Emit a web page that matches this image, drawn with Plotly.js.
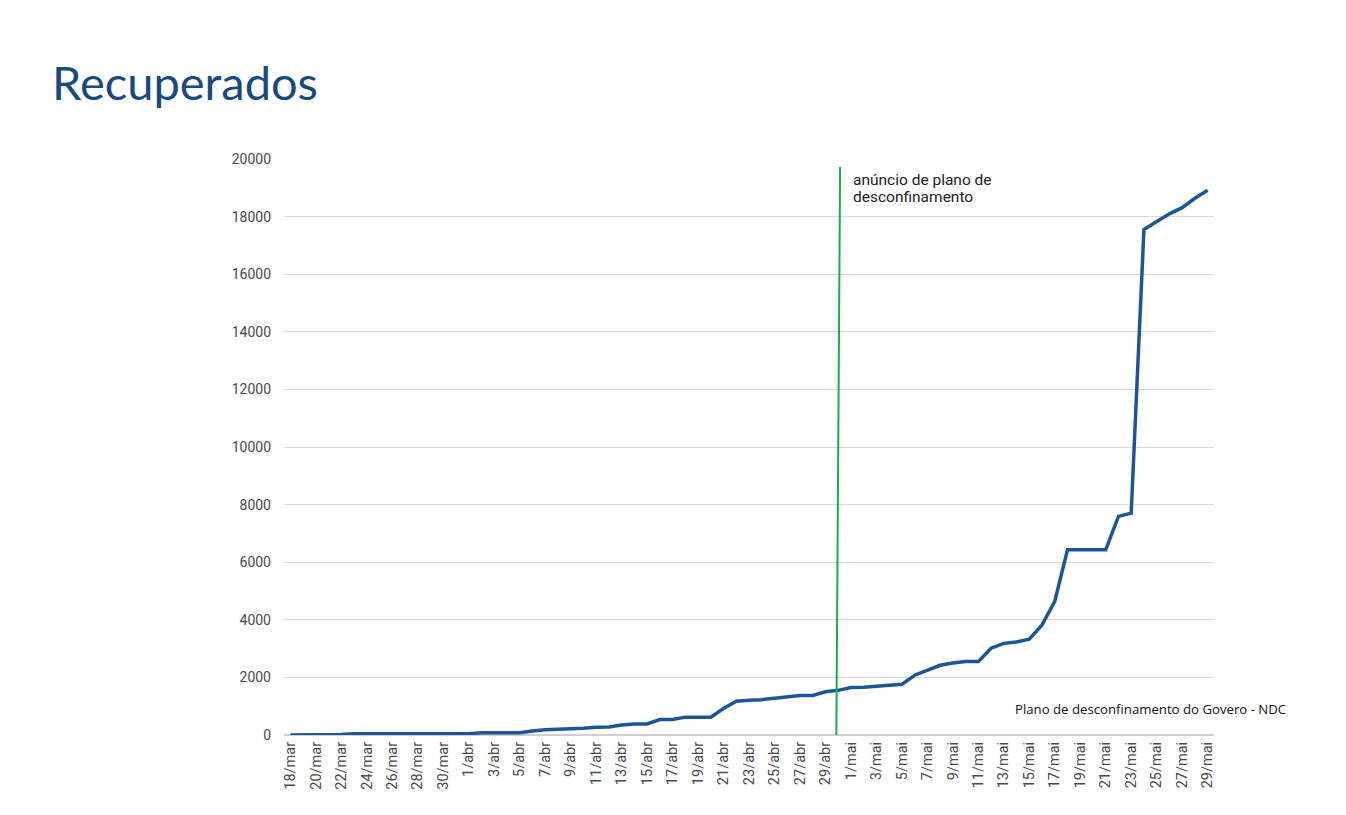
<!DOCTYPE html>
<html>
<head>
<meta charset="utf-8">
<script src="https://cdn.plot.ly/plotly-3.0.1.min.js"></script>
<style>html,body{margin:0;padding:0;background:#fff;}#chart{width:1346px;height:815px;}</style>
</head>
<body>
<div id="chart"></div>
<script>
const dates = [
  "18/mar","19/mar","20/mar","21/mar","22/mar","23/mar","24/mar","25/mar","26/mar","27/mar","28/mar","29/mar","30/mar","31/mar",
  "1/abr","2/abr","3/abr","4/abr","5/abr","6/abr","7/abr","8/abr","9/abr","10/abr","11/abr","12/abr","13/abr","14/abr","15/abr",
  "16/abr","17/abr","18/abr","19/abr","20/abr","21/abr","22/abr","23/abr","24/abr","25/abr","26/abr","27/abr","28/abr","29/abr","30/abr",
  "1/mai","2/mai","3/mai","4/mai","5/mai","6/mai","7/mai","8/mai","9/mai","10/mai","11/mai","12/mai","13/mai","14/mai","15/mai",
  "16/mai","17/mai","18/mai","19/mai","20/mai","21/mai","22/mai","23/mai","24/mai","25/mai","26/mai","27/mai","28/mai","29/mai"
];
const recuperados = [
  3,3,5,5,14,43,43,43,43,43,43,43,43,43,
  43,75,75,75,75,140,184,196,205,233,266,277,347,383,383,
  535,535,620,620,620,917,1170,1210,1228,1280,1329,1370,1375,1500,1550,
  1650,1660,1700,1712,1760,2076,2258,2422,2499,2549,2549,3013,3182,3230,3328,
  3822,4636,6430,6431,6431,6431,7590,7705,17549,17822,18096,18311,18637,18911
];
const yTicks = [0,2000,4000,6000,8000,10000,12000,14000,16000,18000,20000];
const xTickLabels = dates.filter((d,i) => i % 2 === 0);
const announceIndex = [42.85, 43.15];
const announceY = [-350, 19720];
const announceLines = ['anúncio de plano de', 'desconfinamento'];

const trace = {
  x: dates, y: recuperados, type: 'scatter', mode: 'lines',
  line: {color: '#1b5797', width: 3.5}, hoverinfo: 'x+y'
};

const annFont = {family: 'Roboto, sans-serif', size: 15.5, color: '#222'};

const layout = {
  width: 1346, height: 815,
  margin: {l: 284, r: 132, t: 159, b: 80},
  paper_bgcolor: '#ffffff', plot_bgcolor: '#ffffff',
  showlegend: false,
  title: {
    text: 'Recuperados', xref: 'container', yref: 'container',
    x: 52/1346, xanchor: 'left', y: 1 - 84/815, yanchor: 'middle',
    font: {family: 'Lato, sans-serif', size: 47, color: '#184a7d'}
  },
  xaxis: {
    type: 'category', categoryorder: 'array', categoryarray: dates,
    range: [-0.5, dates.length - 0.5],
    tickmode: 'array', tickvals: xTickLabels, ticktext: xTickLabels,
    tickangle: -90, showgrid: false, zeroline: false, showline: false,
    ticks: '', ticklen: 0, ticklabelstandoff: 3,
    tickfont: {family: 'Roboto, sans-serif', size: 14.5, color: '#4a4a4a'}
  },
  yaxis: {
    range: [0, 20000], tickmode: 'array', tickvals: yTicks,
    ticktext: yTicks.map(String),
    showgrid: true, gridcolor: '#d9d9d9', gridwidth: 1,
    zeroline: true, zerolinecolor: '#cfcfcf', zerolinewidth: 2,
    showline: false, ticks: '', ticklen: 0, ticklabelstandoff: 12,
    tickfont: {family: 'Roboto, sans-serif', size: 14, color: '#4a4a4a'}
  },
  shapes: [{
    type: 'line', xref: 'x', yref: 'y',
    x0: announceIndex[0], y0: announceY[0], x1: announceIndex[1], y1: announceY[1],
    line: {color: '#13b04c', width: 2}
  }],
  annotations: [
    {
      text: announceLines[0], xref: 'paper', yref: 'paper',
      x: (851-284)/930, xanchor: 'left', y: (735-180)/576, yanchor: 'middle',
      align: 'left', showarrow: false, font: annFont
    },
    {
      text: announceLines[1], xref: 'paper', yref: 'paper',
      x: (851-284)/930, xanchor: 'left', y: (735-197)/576, yanchor: 'middle',
      align: 'left', showarrow: false, font: annFont
    },
    {
      text: 'Plano de desconfinamento do Govero - NDC', xref: 'paper', yref: 'paper',
      x: (1013-284)/930, xanchor: 'left', y: (735-709)/576, yanchor: 'middle',
      align: 'left', showarrow: false,
      font: {family: '"Open Sans", sans-serif', size: 13.2, color: '#111'}
    }
  ]
};

Plotly.newPlot('chart', [trace], layout, {displayModeBar: false, staticPlot: true});
</script>
</body>
</html>
